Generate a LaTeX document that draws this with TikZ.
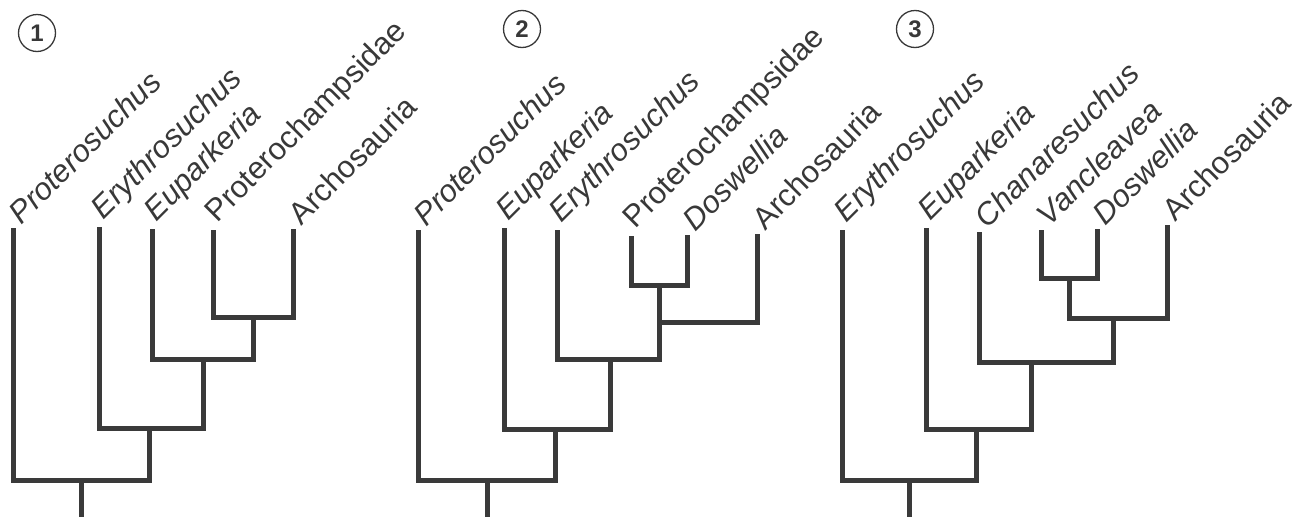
\documentclass[tikz,border=0pt]{standalone}
\usepackage{fontspec}
\setmainfont{Liberation Sans}
\definecolor{Branch}{HTML}{3A3A3A}
\definecolor{Ink}{HTML}{383838}

\tikzset{
  branch/.style={draw=Branch,line width=5pt,line join=miter},
  taxon/.style={xshift=9pt,yshift=2pt,anchor=south west,inner sep=0pt,rotate=45,
    text=Ink,font=\fontsize{31}{36}\selectfont},
  badge/.style={draw=Ink,circle,line width=1.3pt,minimum size=37pt,inner sep=0pt,
    text=Ink,font=\fontsize{24}{28}\selectfont\bfseries}
}

\begin{document}
\begin{tikzpicture}[x=1pt,y=-1pt]
  \useasboundingbox (0,0) rectangle (1296,517);

  % Tree 1
  \node[badge] (b1) at (37,33) {1};
  \coordinate (p1) at (13,228);
  \coordinate (e1) at (99,227);
  \coordinate (u1) at (152,229);
  \coordinate (c1) at (213,230);
  \coordinate (a1) at (293,229);
  \node[taxon] (lp1) at (p1) {\itshape Proterosuchus};
  \node[taxon] (le1) at (e1) {\itshape Erythrosuchus};
  \node[taxon] (lu1) at (u1) {\itshape Euparkeria};
  \node[taxon] (lc1) at (c1) {Proterochampsidae};
  \node[taxon] (la1) at (a1) {Archosauria};
  \coordinate (k11) at (253,317);
  \coordinate (k12) at (203,359);
  \coordinate (k13) at (149,428);
  \coordinate (k14) at (81,480);
  \coordinate (r1) at (81,517);
  \draw[branch] (c1) |- (k11) -| (a1);
  \draw[branch] (u1) |- (k12) -| (k11);
  \draw[branch] (e1) |- (k13) -| (k12);
  \draw[branch] (p1) |- (k14) -| (k13);
  \draw[branch] (k14) -- (r1);

  % Tree 2
  \node[badge] (b2) at (522,29) {2};
  \coordinate (p2) at (418,230);
  \coordinate (u2) at (504,228);
  \coordinate (e2) at (557,230);
  \coordinate (c2) at (631,236);
  \coordinate (d2) at (687,235);
  \coordinate (a2) at (757,234);
  \node[taxon] (lp2) at (p2) {\itshape Proterosuchus};
  \node[taxon] (lu2) at (u2) {\itshape Euparkeria};
  \node[taxon] (le2) at (e2) {\itshape Erythrosuchus};
  \node[taxon] (lc2) at (c2) {Proterochampsidae};
  \node[taxon] (ld2) at (d2) {\itshape Doswellia};
  \node[taxon] (la2) at (a2) {Archosauria};
  \coordinate (k21) at (659,285);
  \coordinate (k22) at (659,322);
  \coordinate (k23) at (610,359);
  \coordinate (k24) at (555,429);
  \coordinate (k25) at (487,480);
  \coordinate (r2) at (487,517);
  \draw[branch] (c2) |- (k21) -| (d2);
  \draw[branch] (k21) -- (k22) -| (a2);
  \draw[branch] (e2) |- (k23) -| (k22);
  \draw[branch] (u2) |- (k24) -| (k23);
  \draw[branch] (p2) |- (k25) -| (k24);
  \draw[branch] (k25) -- (r2);

  % Tree 3
  \node[badge] (b3) at (915,29) {3};
  \coordinate (e3) at (842,230);
  \coordinate (u3) at (926,228);
  \coordinate (h3) at (979,232);
  \coordinate (v3) at (1041,230);
  \coordinate (d3) at (1097,229);
  \coordinate (a3) at (1167,225);
  \node[taxon] (le3) at (e3) {\itshape Erythrosuchus};
  \node[taxon] (lu3) at (u3) {\itshape Euparkeria};
  \node[taxon] (lh3) at (h3) {\itshape Chanaresuchus};
  \node[taxon] (lv3) at (v3) {\itshape Vancleavea};
  \node[taxon] (ld3) at (d3) {\itshape Doswellia};
  \node[taxon] (la3) at (a3) {Archosauria};
  \coordinate (k31) at (1069,278);
  \coordinate (k32) at (1113,318);
  \coordinate (k33) at (1031,362);
  \coordinate (k34) at (976,429);
  \coordinate (k35) at (909,480);
  \coordinate (r3) at (909,517);
  \draw[branch] (v3) |- (k31) -| (d3);
  \draw[branch] (k31) |- (k32) -| (a3);
  \draw[branch] (h3) |- (k33) -| (k32);
  \draw[branch] (u3) |- (k34) -| (k33);
  \draw[branch] (e3) |- (k35) -| (k34);
  \draw[branch] (k35) -- (r3);
\end{tikzpicture}
\end{document}
